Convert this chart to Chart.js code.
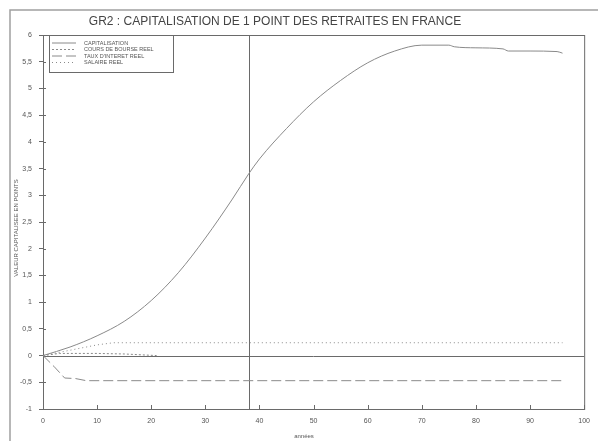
<!DOCTYPE html>
<html>
<head>
<meta charset="utf-8">
<script src="https://cdn.jsdelivr.net/npm/chart.js@4.4.1/dist/chart.umd.min.js"></script>
<style>
  html, body { margin: 0; padding: 0; background: #fff; }
</style>
</head>
<body>
<canvas id="chart" width="598" height="441"></canvas>
<script>
// GR2 - capitalisation d'un point de retraite
const capYears   = [0, 5, 10, 15, 20, 25, 30, 35, 38, 40, 45, 50, 55, 60, 65, 70, 75, 76, 80, 85, 86, 90, 95, 96];
const capValues  = [0, 0.16, 0.37, 0.64, 1.03, 1.55, 2.2, 2.93, 3.4, 3.68, 4.25, 4.75, 5.15, 5.48, 5.7, 5.81, 5.81, 5.78, 5.76, 5.74, 5.7, 5.7, 5.69, 5.66];

const bourseYears  = [0, 3, 10, 15, 21];
const bourseValues = [0, 0.04, 0.04, 0.03, 0.0];

const tauxYears  = [0, 2, 4, 6, 8, 96];
const tauxValues = [0, -0.2, -0.42, -0.43, -0.47, -0.47];

const salaireYears  = [0, 5, 10, 13, 96];
const salaireValues = [0, 0.1, 0.2, 0.24, 0.24];

const seriesLabels = ['CAPITALISATION', 'COURS DE BOURSE REEL', "TAUX D'INTERET REEL", 'SALAIRE REEL'];
const markerYear = 38;

const titleText = 'GR2 : CAPITALISATION DE 1 POINT DES RETRAITES EN FRANCE';
const xTitle = 'années';
const yTitle = 'VALEUR CAPITALISEE EN POINTS';

const lineColor = '#8a8a8a';
const axisColor = '#6a6a6a';
const textColor = '#555';

function pts(xs, ys) {
    return xs.map((x, i) => ({ x: x, y: ys[i] }));
}

const decor = {
    id: 'decor',
    beforeDatasetsDraw(chart) {
        const ctx = chart.ctx;
        const a = chart.chartArea;
        const xs = chart.scales.x, ys = chart.scales.y;
        ctx.save();
        // outer frame
        ctx.strokeStyle = '#a0a0a0';
        ctx.lineWidth = 1.5;
        ctx.beginPath();
        ctx.moveTo(10, 441);
        ctx.lineTo(10, 10);
        ctx.lineTo(598, 10);
        ctx.stroke();

        // plot box
        ctx.strokeStyle = axisColor;
        ctx.lineWidth = 1;
        ctx.strokeRect(a.left + 0.5, a.top + 0.5, a.right - a.left, a.bottom - a.top);

        // zero line + marker year
        const y0 = Math.round(ys.getPixelForValue(0)) + 0.5;
        const xm = Math.round(xs.getPixelForValue(markerYear)) + 0.5;
        ctx.beginPath();
        ctx.moveTo(a.left, y0); ctx.lineTo(a.right, y0);
        ctx.moveTo(xm, a.top); ctx.lineTo(xm, a.bottom);
        ctx.stroke();

        // inside tick marks
        ctx.beginPath();
        xs.ticks.forEach(t => {
            const px = Math.round(xs.getPixelForValue(t.value)) + 0.5;
            ctx.moveTo(px, a.bottom); ctx.lineTo(px, a.bottom - 4);
        });
        ys.ticks.forEach(t => {
            const py = Math.round(ys.getPixelForValue(t.value)) + 0.5;
            ctx.moveTo(a.left, py); ctx.lineTo(a.left + 3, py);
        });
        ctx.stroke();

        // title
        ctx.fillStyle = '#444';
        ctx.font = '12px "Liberation Sans", Arial, sans-serif';
        ctx.textAlign = 'center';
        ctx.textBaseline = 'middle';
        ctx.fillText(titleText, 275, 22);

        // axis titles
        ctx.fillStyle = textColor;
        ctx.font = '6px "Liberation Sans", Arial, sans-serif';
        ctx.fillText(xTitle, 304, 436);
        ctx.save();
        ctx.translate(16, 228);
        ctx.rotate(-Math.PI / 2);
        ctx.fillText(yTitle, 0, 0);
        ctx.restore();

        // legend
        ctx.strokeStyle = axisColor;
        ctx.strokeRect(49.5, a.top + 0.5, 124, 37);
        ctx.font = '5.5px "Liberation Sans", Arial, sans-serif';
        ctx.textAlign = 'left';
        chart.data.datasets.forEach((ds, i) => {
            const ly = a.top + 8 + i * 6.5;
            ctx.strokeStyle = ds.borderColor;
            ctx.lineWidth = 1;
            ctx.setLineDash(ds.borderDash || []);
            ctx.beginPath();
            ctx.moveTo(52, ly); ctx.lineTo(76, ly);
            ctx.stroke();
            ctx.setLineDash([]);
            ctx.fillText(ds.label, 84, ly);
        });
        ctx.restore();
    }
};

new Chart(document.getElementById('chart'), {
    type: 'line',
    data: {
        datasets: [
            { label: seriesLabels[0], data: pts(capYears, capValues), borderColor: lineColor, borderWidth: 1, cubicInterpolationMode: 'monotone' },
            { label: seriesLabels[1], data: pts(bourseYears, bourseValues), borderColor: lineColor, borderWidth: 1, borderDash: [2, 2] },
            { label: seriesLabels[2], data: pts(tauxYears, tauxValues), borderColor: lineColor, borderWidth: 1, borderDash: [10, 4] },
            { label: seriesLabels[3], data: pts(salaireYears, salaireValues), borderColor: lineColor, borderWidth: 1, borderDash: [1, 3] }
        ]
    },
    options: {
        responsive: false,
        animation: false,
        layout: { padding: { top: 35, right: 9, left: 0, bottom: 0 } },
        elements: { point: { radius: 0 } },
        plugins: { legend: { display: false }, tooltip: { enabled: false }, title: { display: false } },
        scales: {
            x: {
                type: 'linear', min: 0, max: 100,
                afterFit: s => { s.height = 32; },
                grid: { drawOnChartArea: false, drawTicks: false },
                border: { display: false },
                ticks: { stepSize: 10, color: textColor, font: { size: 7 }, padding: 8, maxRotation: 0 }
            },
            y: {
                min: -1, max: 6,
                afterFit: s => { s.width = 43; },
                grid: { drawOnChartArea: false, drawTicks: true, tickLength: 4, color: axisColor },
                border: { display: false },
                ticks: { stepSize: 0.5, color: textColor, font: { size: 7 }, padding: 7,
                         callback: v => String(v).replace('.', ',') }
            }
        }
    },
    plugins: [decor]
});
</script>
</body>
</html>
